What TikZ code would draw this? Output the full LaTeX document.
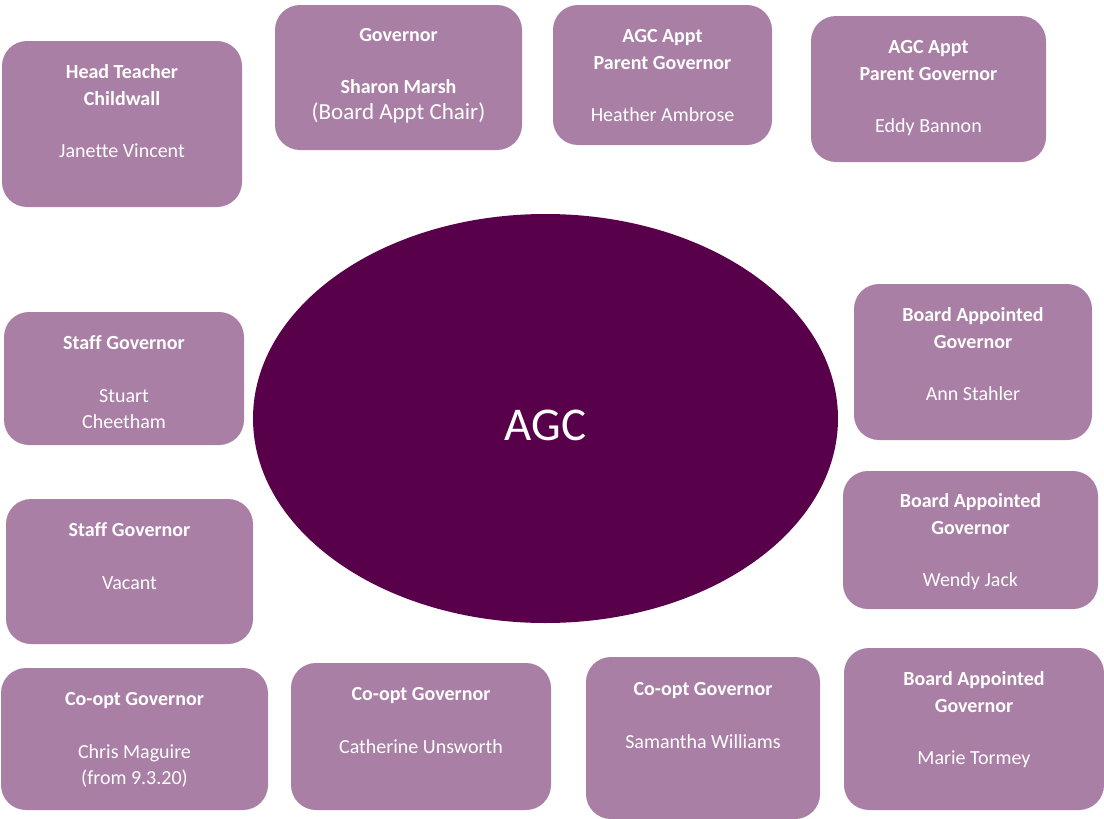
\documentclass[tikz,border=0pt]{standalone}
\usepackage{fontspec}
\setmainfont[Ligatures=NoCommon]{Carlito}
\usetikzlibrary{shapes.geometric}
\definecolor{boxc}{HTML}{A97FA5}
\definecolor{ellc}{HTML}{58004A}
\tikzset{
  govbox/.style={draw=none, fill=boxc, rounded corners=25pt, minimum width=#1, inner sep=0pt},
  lbl/.style={anchor=north, inner sep=0pt, align=center, text=white, font=\fontsize{20}{26.5}\selectfont},
}
\newcommand{\hd}[1]{\textbf{#1}}
\begin{document}
\begin{tikzpicture}[x=1pt,y=-1pt]
\useasboundingbox (0,0) rectangle (1104,819);
% boxes
\node[govbox=240pt, minimum height=166pt] (b1) at (122,124) {};
\node[govbox=247pt, minimum height=145pt] (b2) at (398.5,77.5) {};
\node[govbox=219pt, minimum height=140pt] (b3) at (662.5,75) {};
\node[govbox=235pt, minimum height=146pt] (b4) at (928.5,89) {};
\node[govbox=240pt, minimum height=133pt] (b5) at (124,378.5) {};
\node[govbox=247pt, minimum height=145pt] (b6) at (129.5,571.5) {};
\node[govbox=267pt, minimum height=142pt] (b7) at (134.5,739) {};
\node[govbox=260pt, minimum height=147pt] (b8) at (421,736.5) {};
\node[govbox=234pt, minimum height=162pt] (b9) at (703,738) {};
\node[govbox=260pt, minimum height=162pt] (b10) at (974,729) {};
\node[govbox=255pt, minimum height=138pt] (b11) at (970.5,540) {};
\node[govbox=238pt, minimum height=156pt] (b12) at (973,362) {};
% ellipse
\node[ellipse, fill=ellc, minimum width=585pt, minimum height=409pt, inner sep=0pt,
      text=white, font=\fontsize{47}{56}\selectfont] (agc) at (545.5,418.5) {\raisebox{-21.5pt}[0pt][0pt]{\makebox[0pt]{AGC}}};
% texts
\node[lbl] (t1) at ([yshift=-19pt]b1.north) {\strut\hd{Head Teacher}\\\hd{Childwall}\\[26pt]Janette Vincent};
\node[lbl] (t2) at ([yshift=-18pt]b2.north) {\strut\hd{Governor}\\[25pt]\hd{Sharon Marsh}\\{\fontsize{23}{25.5}\selectfont (Board Appt Chair)}};
\node[lbl] (t3) at ([yshift=-19pt]b3.north) {\strut\hd{AGC Appt}\\\hd{Parent Governor}\\[26pt]Heather Ambrose};
\node[lbl] (t4) at ([yshift=-19pt]b4.north) {\strut\hd{AGC Appt}\\\hd{Parent Governor}\\[26pt]Eddy Bannon};
\node[lbl] (t5) at ([yshift=-19pt]b5.north) {\strut\hd{Staff Governor}\\[26pt]Stuart\\Cheetham};
\node[lbl] (t6) at ([yshift=-19pt]b6.north) {\strut\hd{Staff Governor}\\[26pt]Vacant};
\node[lbl] (t7) at ([yshift=-19pt]b7.north) {\strut\hd{Co-opt Governor}\\[26pt]Chris Maguire\\(from 9.3.20)};
\node[lbl] (t8) at ([yshift=-19pt]b8.north) {\strut\hd{Co-opt Governor}\\[26pt]Catherine Unsworth};
\node[lbl] (t9) at ([yshift=-20pt]b9.north) {\strut\hd{Co-opt Governor}\\[26pt]Samantha Williams};
\node[lbl] (t10) at ([yshift=-19pt]b10.north) {\strut\hd{Board Appointed}\\\hd{Governor}\\[26pt]Marie Tormey};
\node[lbl] (t11) at ([yshift=-18pt]b11.north) {\strut\hd{Board Appointed}\\\hd{Governor}\\[26pt]Wendy Jack};
\node[lbl] (t12) at ([yshift=-19pt]b12.north) {\strut\hd{Board Appointed}\\\hd{Governor}\\[26pt]Ann Stahler};
\end{tikzpicture}
\end{document}
